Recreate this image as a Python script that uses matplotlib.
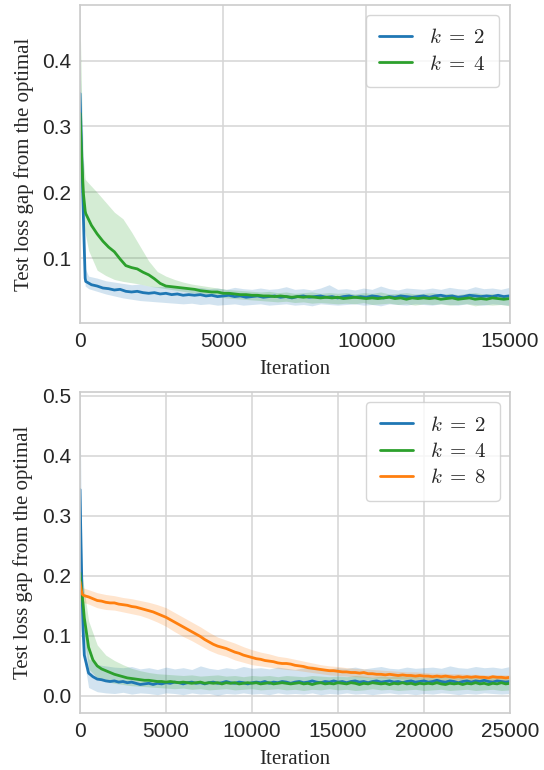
import numpy as np
import matplotlib
matplotlib.use("Agg")
import matplotlib.pyplot as plt
import seaborn as sns

sns.set_style("whitegrid")
plt.rcParams["font.family"] = ["Liberation Sans", "DejaVu Sans"]
plt.rcParams["mathtext.fontset"] = "cm"

# ---------------- data: top panel (k=2, k=4) ----------------
top_line_iter = [0, 60, 120, 180] + list(range(200, 15001, 200))
top_band_iter = [0, 60, 120, 180] + list(range(300, 15001, 300))

top_k2_mean = [0.350, 0.260, 0.160, 0.070,
    0.065, 0.060, 0.058, 0.055, 0.054, 0.052, 0.053, 0.050, 0.049, 0.050,
    0.048, 0.047, 0.048, 0.046, 0.047, 0.045, 0.046, 0.044, 0.045, 0.044,
    0.045, 0.043, 0.044, 0.042, 0.043, 0.044, 0.042, 0.043, 0.041, 0.042,
    0.043, 0.041, 0.042, 0.043, 0.041, 0.042, 0.040, 0.042, 0.043, 0.041,
    0.042, 0.043, 0.041, 0.042, 0.040, 0.042, 0.043, 0.041, 0.042, 0.041,
    0.043, 0.042, 0.040, 0.042, 0.041, 0.043, 0.042, 0.041, 0.042, 0.043,
    0.041, 0.043, 0.044, 0.042, 0.043, 0.041, 0.042, 0.044, 0.043, 0.042,
    0.043, 0.042, 0.044, 0.042, 0.043]
top_k4_mean = [0.320, 0.250, 0.198, 0.172,
    0.168, 0.150, 0.137, 0.126, 0.117, 0.110, 0.099, 0.089, 0.086, 0.084,
    0.079, 0.075, 0.069, 0.062, 0.058, 0.057, 0.056, 0.055, 0.054, 0.053,
    0.051, 0.050, 0.049, 0.049, 0.047, 0.047, 0.046, 0.045, 0.045, 0.044,
    0.044, 0.043, 0.043, 0.042, 0.043, 0.042, 0.041, 0.042, 0.041, 0.042,
    0.041, 0.040, 0.041, 0.040, 0.041, 0.039, 0.040, 0.041, 0.040, 0.039,
    0.040, 0.039, 0.040, 0.041, 0.039, 0.040, 0.038, 0.040, 0.039, 0.040,
    0.039, 0.040, 0.038, 0.039, 0.040, 0.038, 0.039, 0.040, 0.038, 0.039,
    0.038, 0.040, 0.039, 0.038, 0.039]

top_k2_hi = [0.400, 0.300, 0.200, 0.085,
    0.073, 0.070, 0.066, 0.064, 0.062, 0.060, 0.061, 0.058, 0.057, 0.058,
    0.056, 0.057, 0.055, 0.056, 0.054, 0.055, 0.053, 0.056, 0.054, 0.053,
    0.055, 0.053, 0.054, 0.057, 0.053, 0.054, 0.052, 0.055, 0.060, 0.053,
    0.054, 0.052, 0.055, 0.053, 0.058, 0.054, 0.052, 0.055, 0.054, 0.053,
    0.055, 0.053, 0.056, 0.054, 0.053, 0.057, 0.054, 0.055, 0.053, 0.056]
top_k2_lo = [0.300, 0.220, 0.130, 0.058,
    0.054, 0.050, 0.046, 0.043, 0.040, 0.038, 0.036, 0.035, 0.034, 0.033,
    0.032, 0.031, 0.032, 0.030, 0.031, 0.029, 0.030, 0.031, 0.029, 0.030,
    0.031, 0.029, 0.030, 0.031, 0.029, 0.030, 0.028, 0.031, 0.030, 0.029,
    0.030, 0.031, 0.029, 0.030, 0.028, 0.031, 0.030, 0.029, 0.031, 0.030,
    0.029, 0.031, 0.030, 0.029, 0.031, 0.030, 0.029, 0.031, 0.030, 0.029]
top_k4_hi = [0.466, 0.340, 0.250, 0.220,
    0.214, 0.200, 0.185, 0.170, 0.160, 0.140, 0.118, 0.096, 0.080, 0.073,
    0.068, 0.064, 0.061, 0.059, 0.057, 0.055, 0.053, 0.052, 0.051, 0.050,
    0.049, 0.050, 0.048, 0.049, 0.047, 0.048, 0.049, 0.047, 0.048, 0.047,
    0.048, 0.046, 0.048, 0.047, 0.049, 0.046, 0.047, 0.048, 0.046, 0.047,
    0.048, 0.046, 0.047, 0.045, 0.047, 0.048, 0.046, 0.047, 0.045, 0.046]
top_k4_lo = [0.230, 0.180, 0.150, 0.138,
    0.112, 0.082, 0.074, 0.068, 0.065, 0.063, 0.061, 0.058, 0.056, 0.054,
    0.052, 0.050, 0.048, 0.046, 0.044, 0.042, 0.040, 0.039, 0.038, 0.037,
    0.036, 0.035, 0.034, 0.035, 0.033, 0.034, 0.032, 0.033, 0.032, 0.031,
    0.032, 0.031, 0.033, 0.030, 0.031, 0.032, 0.030, 0.031, 0.029, 0.031,
    0.030, 0.031, 0.029, 0.030, 0.031, 0.028, 0.030, 0.029, 0.030, 0.028]

# ---------------- data: bottom panel (k=2, k=4, k=8) ----------------
bot_line_iter = [0, 60, 120, 180] + list(range(250, 25001, 250))
bot_band_iter = [0, 60, 120, 180] + list(range(500, 25001, 500))

bot_k2_mean = [0.344, 0.250, 0.170, 0.110,
    0.068, 0.038, 0.032, 0.028, 0.027, 0.025, 0.024, 0.025, 0.023, 0.024,
    0.022, 0.023, 0.021, 0.019, 0.020, 0.021, 0.019, 0.021, 0.020, 0.022,
    0.021, 0.023, 0.022, 0.020, 0.022, 0.023, 0.021, 0.022, 0.020, 0.022,
    0.023, 0.021, 0.022, 0.024, 0.022, 0.021, 0.023, 0.022, 0.020, 0.022,
    0.023, 0.022, 0.024, 0.021, 0.023, 0.022, 0.024, 0.023, 0.021, 0.023,
    0.024, 0.022, 0.023, 0.025, 0.023, 0.022, 0.024, 0.023, 0.025, 0.023,
    0.024, 0.022, 0.024, 0.025, 0.023, 0.024, 0.022, 0.024, 0.025, 0.023,
    0.024, 0.025, 0.023, 0.024, 0.022, 0.024, 0.025, 0.023, 0.024, 0.025,
    0.023, 0.024, 0.026, 0.024, 0.023, 0.025, 0.024, 0.022, 0.024, 0.025,
    0.023, 0.025, 0.024, 0.026, 0.024, 0.023, 0.025, 0.024, 0.023, 0.024]
bot_k4_mean = [0.205, 0.185, 0.166, 0.153,
    0.130, 0.081, 0.060, 0.050, 0.045, 0.042, 0.039, 0.036, 0.034, 0.032,
    0.030, 0.029, 0.028, 0.027, 0.026, 0.026, 0.025, 0.024, 0.024, 0.023,
    0.024, 0.023, 0.022, 0.023, 0.022, 0.021, 0.022, 0.023, 0.021, 0.022,
    0.021, 0.022, 0.020, 0.022, 0.021, 0.022, 0.020, 0.021, 0.022, 0.021,
    0.022, 0.020, 0.021, 0.022, 0.020, 0.021, 0.022, 0.021, 0.020, 0.021,
    0.022, 0.020, 0.021, 0.019, 0.021, 0.022, 0.020, 0.021, 0.020, 0.022,
    0.021, 0.020, 0.022, 0.021, 0.019, 0.021, 0.020, 0.022, 0.021, 0.020,
    0.021, 0.019, 0.021, 0.020, 0.022, 0.020, 0.021, 0.019, 0.021, 0.020,
    0.021, 0.020, 0.022, 0.020, 0.019, 0.021, 0.020, 0.021, 0.019, 0.021,
    0.020, 0.022, 0.020, 0.021, 0.019, 0.021, 0.020, 0.022, 0.020, 0.021]
bot_k8_mean = [0.190, 0.178, 0.170, 0.168,
    0.167, 0.165, 0.162, 0.159, 0.158, 0.156, 0.155, 0.155, 0.153, 0.152,
    0.151, 0.149, 0.148, 0.146, 0.144, 0.142, 0.140, 0.137, 0.134, 0.131,
    0.127, 0.123, 0.119, 0.115, 0.111, 0.107, 0.103, 0.099, 0.094, 0.090,
    0.086, 0.083, 0.081, 0.079, 0.076, 0.073, 0.071, 0.068, 0.066, 0.064,
    0.062, 0.061, 0.059, 0.058, 0.057, 0.055, 0.054, 0.054, 0.053, 0.051,
    0.050, 0.049, 0.047, 0.046, 0.045, 0.044, 0.043, 0.042, 0.042, 0.041,
    0.040, 0.040, 0.039, 0.039, 0.038, 0.039, 0.037, 0.037, 0.036, 0.036,
    0.035, 0.036, 0.035, 0.034, 0.035, 0.034, 0.034, 0.033, 0.034, 0.033,
    0.033, 0.032, 0.033, 0.032, 0.033, 0.032, 0.031, 0.032, 0.031, 0.032,
    0.031, 0.032, 0.031, 0.031, 0.030, 0.032, 0.031, 0.031, 0.030, 0.031]

bot_k2_hi = [0.484, 0.330, 0.220, 0.150,
    0.062, 0.052, 0.050, 0.048, 0.047, 0.049, 0.045, 0.047, 0.044, 0.048,
    0.045, 0.047, 0.044, 0.050, 0.046, 0.044, 0.047, 0.045, 0.049, 0.046,
    0.047, 0.045, 0.048, 0.046, 0.044, 0.047, 0.050, 0.046, 0.045, 0.047,
    0.046, 0.048, 0.045, 0.047, 0.049, 0.046, 0.045, 0.048, 0.046, 0.047,
    0.048, 0.046, 0.050, 0.047, 0.046, 0.049, 0.047, 0.048, 0.046, 0.049]
bot_k2_lo = [0.220, 0.170, 0.110, 0.070,
    0.014, 0.007, 0.005, 0.004, 0.006, 0.003, 0.005, 0.004, 0.002, 0.005,
    0.004, 0.002, 0.005, 0.003, 0.004, 0.001, 0.004, 0.003, 0.005, 0.003,
    0.004, 0.002, 0.005, 0.003, 0.004, 0.003, 0.005, 0.002, 0.004, 0.003,
    0.005, 0.003, 0.004, 0.002, 0.004, 0.005, 0.003, 0.004, 0.002, 0.004,
    0.003, 0.005, 0.004, 0.002, 0.004, 0.003, 0.005, 0.004, 0.003, 0.004]
bot_k4_hi = [0.235, 0.215, 0.200, 0.190,
    0.125, 0.085, 0.068, 0.059, 0.052, 0.046, 0.042, 0.039, 0.037, 0.036,
    0.035, 0.034, 0.035, 0.033, 0.034, 0.035, 0.033, 0.034, 0.032, 0.034,
    0.033, 0.034, 0.032, 0.034, 0.033, 0.032, 0.034, 0.033, 0.032, 0.033,
    0.032, 0.034, 0.033, 0.031, 0.033, 0.032, 0.034, 0.032, 0.033, 0.031,
    0.033, 0.032, 0.034, 0.031, 0.033, 0.032, 0.031, 0.033, 0.032, 0.033]
bot_k4_lo = [0.180, 0.155, 0.130, 0.115,
    0.045, 0.030, 0.024, 0.021, 0.019, 0.017, 0.016, 0.015, 0.014, 0.013,
    0.012, 0.013, 0.011, 0.012, 0.010, 0.011, 0.012, 0.010, 0.011, 0.012,
    0.010, 0.011, 0.012, 0.010, 0.011, 0.009, 0.011, 0.010, 0.012, 0.010,
    0.011, 0.009, 0.010, 0.012, 0.010, 0.011, 0.009, 0.010, 0.011, 0.009,
    0.010, 0.011, 0.009, 0.010, 0.011, 0.009, 0.010, 0.011, 0.009, 0.010]
bot_k8_hi = [0.200, 0.190, 0.182, 0.180,
    0.177, 0.172, 0.169, 0.167, 0.164, 0.162, 0.159, 0.156, 0.152, 0.147,
    0.139, 0.131, 0.123, 0.115, 0.106, 0.098, 0.093, 0.088, 0.082, 0.077,
    0.073, 0.070, 0.066, 0.064, 0.061, 0.058, 0.055, 0.052, 0.050, 0.049,
    0.047, 0.046, 0.045, 0.044, 0.043, 0.042, 0.041, 0.040, 0.040, 0.039,
    0.038, 0.038, 0.037, 0.037, 0.036, 0.036, 0.035, 0.035, 0.035, 0.035]
bot_k8_lo = [0.180, 0.166, 0.158, 0.156,
    0.153, 0.147, 0.144, 0.143, 0.140, 0.137, 0.134, 0.129, 0.123, 0.116,
    0.107, 0.099, 0.092, 0.084, 0.076, 0.070, 0.066, 0.060, 0.056, 0.052,
    0.050, 0.048, 0.046, 0.044, 0.043, 0.041, 0.039, 0.037, 0.035, 0.034,
    0.033, 0.032, 0.031, 0.030, 0.030, 0.029, 0.029, 0.028, 0.028, 0.027,
    0.027, 0.027, 0.026, 0.026, 0.026, 0.025, 0.025, 0.025, 0.024, 0.024]

labels = [r"$k\;=\;2$", r"$k\;=\;4$", r"$k\;=\;8$"]
colors = ["#1f77b4", "#2ca02c", "#ff7f0e"]

# ---------------- figure ----------------
W, H = 544, 770
fig = plt.figure(figsize=(W / 100, H / 100), dpi=100)
ax1 = fig.add_axes([80 / W, 1 - 323.3 / H, 429.5 / W, (323.3 - 4.5) / H])
ax2 = fig.add_axes([80 / W, 1 - 712.7 / H, 430 / W, (712.7 - 391.7) / H])

def draw(ax, line_x, band_x, means, his, los, n):
    for i in range(n):
        ax.plot(line_x, means[i], color=colors[i], lw=2.0, label=labels[i])
        ax.fill_between(band_x, los[i], his[i], color=colors[i], alpha=0.2, lw=0)

draw(ax1, top_line_iter, top_band_iter, [top_k2_mean, top_k4_mean],
     [top_k2_hi, top_k4_hi], [top_k2_lo, top_k4_lo], 2)
draw(ax2, bot_line_iter, bot_band_iter, [bot_k2_mean, bot_k4_mean, bot_k8_mean],
     [bot_k2_hi, bot_k4_hi, bot_k8_hi], [bot_k2_lo, bot_k4_lo, bot_k8_lo], 3)

ax1.set_xlim(0, 15000)
ax1.set_ylim(0.0015, 0.485)
ax1.set_xticks([0, 5000, 10000, 15000])
ax1.set_yticks([0.1, 0.2, 0.3, 0.4])
ax2.set_xlim(0, 25000)
ax2.set_ylim(-0.028, 0.507)
ax2.set_xticks([0, 5000, 10000, 15000, 20000, 25000])
ax2.set_yticks([0.0, 0.1, 0.2, 0.3, 0.4, 0.5])

serif = ["Liberation Serif", "DejaVu Serif"]
for ax in (ax1, ax2):
    ax.tick_params(axis="both", labelsize=15, pad=6.5, length=0, colors="#262626")
    ax.set_xlabel("Iteration", fontsize=15, family=serif, labelpad=6.5)
    ax.set_ylabel("Test loss gap from the optimal", fontsize=15, family=serif, labelpad=6)
    for s in ax.spines.values():
        s.set_color("#cccccc")
        s.set_linewidth(1.2)
    ax.grid(True, color="#d5d5d5", lw=1.1)
    ax.set_axisbelow(True)
    ax.legend(loc="upper right", fontsize=15, handlelength=1.6, frameon=True,
              fancybox=True, edgecolor="#cccccc", framealpha=0.8,
              borderaxespad=0.5, borderpad=0.65, labelspacing=0.35,
              handletextpad=0.8)

fig.savefig("out.png", dpi=100)
